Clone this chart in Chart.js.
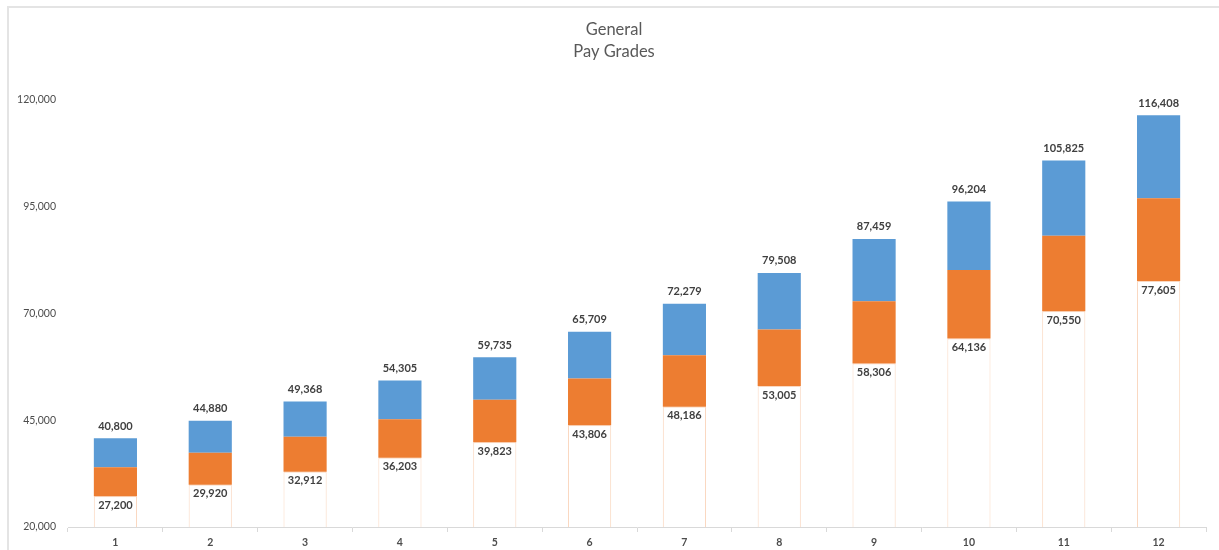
<!DOCTYPE html>
<html>
<head>
<meta charset="utf-8">
<script src="https://cdn.jsdelivr.net/npm/chart.js@4/dist/chart.umd.min.js"></script>
<style>
    html, body { margin: 0; padding: 0; background: #fff; }
    .wrap { position: relative; width: 1219px; height: 550px; overflow: hidden; }
    .frame { position: absolute; left: 7px; top: 6px; width: 1300px; height: 600px; border: 2px solid #e4e4e4; box-sizing: border-box; }
    canvas { position: absolute; left: 0; top: 0; }
</style>
</head>
<body>
<div class="wrap">
    <div class="frame"></div>
    <canvas id="payChart" width="1219" height="550"></canvas>
</div>
<script>
const grades = ['1', '2', '3', '4', '5', '6', '7', '8', '9', '10', '11', '12'];
const minimum = [27200, 29920, 32912, 36203, 39823, 43806, 48186, 53005, 58306, 64136, 70550, 77605];
const midpoint = [34000, 37400, 41140, 45254, 49779, 54758, 60233, 66257, 72883, 80170, 88188, 97007];
const maximum = [40800, 44880, 49368, 54305, 59735, 65709, 72279, 79508, 87459, 96204, 105825, 116408];
const axisFloor = 20000;
const yTicks = [20000, 45000, 70000, 95000, 120000];
const titleLines = ['General', 'Pay Grades'];

const fmt = v => v.toLocaleString('en-US');

// title and bar labels drawn by hand, like the Excel original
const labelPlugin = {
    id: 'payLabels',
    afterDatasetsDraw(chart) {
        const ctx = chart.ctx;
        ctx.save();
        ctx.textAlign = 'center';
        ctx.textBaseline = 'middle';
        ctx.fillStyle = '#404040';
        ctx.font = 'bold 11px Lato';

        const orange = chart.getDatasetMeta(1).data;
        const blue = chart.getDatasetMeta(2).data;
        blue.forEach((bar, i) => {
            ctx.fillText(fmt(maximum[i]), bar.x, bar.y - 12);
        });
        orange.forEach((bar, i) => {
            ctx.fillText(fmt(minimum[i]), bar.x, bar.base + 9);
        });

        ctx.fillStyle = '#595959';
        ctx.font = '16.5px Lato';
        ctx.fillText(titleLines[0], 614, 30);
        ctx.fillText(titleLines[1], 614, 52);
        ctx.restore();
    }
};

const ctx = document.getElementById('payChart').getContext('2d');
new Chart(ctx, {
    type: 'bar',
    data: {
        labels: grades,
        datasets: [
            {
                label: 'Base',
                data: minimum.map(v => [axisFloor, v]),
                backgroundColor: '#ffffff',
                borderColor: 'rgba(237, 125, 49, 0.3)',
                borderWidth: 1
            },
            {
                label: 'Minimum to Midpoint',
                data: minimum.map((v, i) => [v, midpoint[i]]),
                backgroundColor: '#ED7D31',
                borderWidth: 0
            },
            {
                label: 'Midpoint to Maximum',
                data: midpoint.map((v, i) => [v, maximum[i]]),
                backgroundColor: '#5B9BD5',
                borderWidth: 0
            }
        ]
    },
    options: {
        responsive: false,
        animation: false,
        layout: { padding: { top: 100, right: 13, left: 0, bottom: 0 } },
        datasets: {
            bar: { grouped: false, barPercentage: 0.455, categoryPercentage: 1 }
        },
        scales: {
            x: {
                grid: { display: true, drawOnChartArea: false, drawTicks: true, tickLength: 5, color: '#d9d9d9', offset: true },
                border: { display: true, color: '#d9d9d9', width: 1 },
                ticks: { color: '#4d4d4d', font: { family: 'Lato', size: 10.5, weight: 'bold' }, padding: 4 },
                afterFit(scale) { scale.height = 23; }
            },
            y: {
                min: axisFloor,
                max: 120000,
                grid: { display: false },
                border: { display: false },
                afterBuildTicks(scale) { scale.ticks = yTicks.map(v => ({ value: v })); },
                ticks: {
                    color: '#4d4d4d',
                    font: { family: 'Lato', size: 10.5 },
                    padding: 4,
                    callback: v => fmt(v)
                },
                afterFit(scale) { scale.width = 68; }
            }
        },
        plugins: {
            legend: { display: false },
            title: { display: false },
            tooltip: { enabled: false }
        }
    },
    plugins: [labelPlugin]
});
</script>
</body>
</html>
